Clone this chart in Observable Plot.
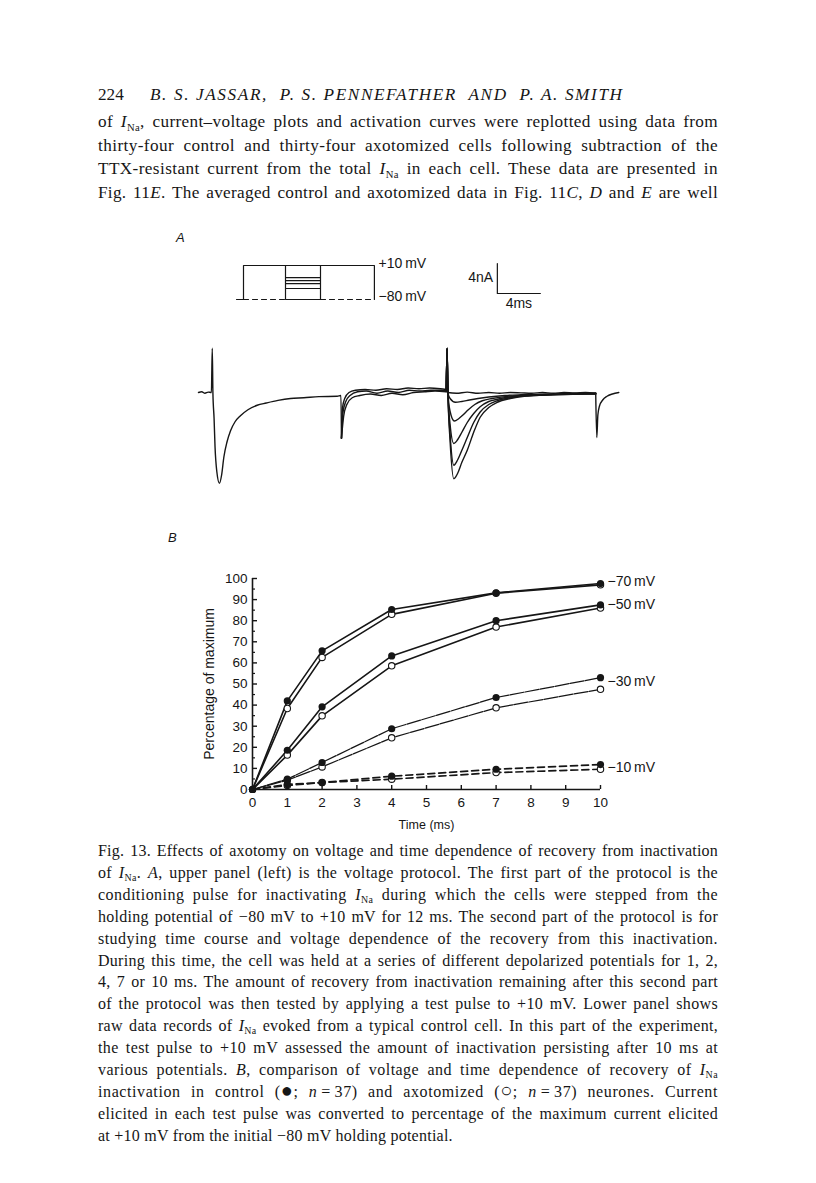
<!DOCTYPE html>
<html><head><meta charset="utf-8">
<script src="https://cdn.jsdelivr.net/npm/d3@7"></script>
<script src="https://cdn.jsdelivr.net/npm/@observablehq/plot@0.6"></script>
<style>
body{margin:0;background:#fff;}
#page{position:relative;width:816px;height:1183px;overflow:hidden;background:#fff;color:#161616;}
.ln{position:absolute;left:98px;width:660px;white-space:nowrap;font-family:"Liberation Serif",serif;}
.ln span{display:inline-block;white-space:nowrap;}
.p{font-size:17.2px;line-height:22px;}
.c{font-size:16px;line-height:20px;}
sub{font-size:0.62em;vertical-align:-0.35em;line-height:0;}
.plot{position:absolute;}
.lab{position:absolute;font-family:"Liberation Sans",sans-serif;font-style:italic;font-size:13px;}
</style></head>
<body><div id="page"></div>
<script>
// ---------- Panel B data (percentage of maximum vs time) ----------
const times = [0, 1, 2, 4, 7, 10];
const ctrl70 = [0, 42, 65.7, 85.3, 93.2, 97.6];
const axo70  = [0, 38.4, 62.6, 83, 93, 97];
const ctrl50 = [0, 18.6, 39.2, 63.3, 80, 87.5];
const axo50  = [0, 16.3, 34.9, 58.6, 77, 86];
const ctrl30 = [0, 4.9, 12.8, 28.8, 43.6, 53];
const axo30  = [0, 4.4, 10.7, 24.5, 38.7, 47.5];
const ctrl10 = [0, 2.4, 3.3, 6.3, 9.6, 11.8];
const axo10  = [0, 1.9, 3.3, 4.9, 8, 9.6];
const potentials = ["−70", "−50", "−30", "−10"];
const seriesLabels = ["−70\u2009mV", "−50\u2009mV", "−30\u2009mV", "−10\u2009mV"];
const labelY = [98.6, 87.7, 51.2, 10.4];
const xTicks = [0, 1, 2, 3, 4, 5, 6, 7, 8, 9, 10];
const yTicks = [0, 10, 20, 30, 40, 50, 60, 70, 80, 90, 100];
const yMinor = [5, 15, 25, 35, 45, 55, 65, 75, 85, 95];

// ---------- Panel A data: raw current records (ms, nA) ----------
const condTrace = [[0,0],[0.3,0.1],[0.6,-0.1],[0.9,0.05],[1.2,0],[1.28,5.9],[1.34,0],[1.45,-3.5],[1.54,-7.3],[1.7,-10.5],[1.95,-12.1],[2.15,-11.0],[2.36,-8.6],[2.65,-6.6],[2.98,-5.1],[3.4,-3.9],[3.9,-3.1],[4.6,-2.3],[5.46,-1.7],[6.3,-1.4],[7.4,-1.05],[8.56,-0.8],[9.8,-0.7],[11.2,-0.55],[12.9,-0.5],[13.25,-0.4],[13.3,-6.1]];
const recTrace1 = [[13.3,-6.1],[13.4,-2.0],[13.6,-0.8],[14.0,0],[14.6,0.3],[15.5,0.4],[16.5,0.3],[17.5,0.5],[18.5,0.4],[19.5,0.6],[20.5,0.5],[21.5,0.6],[22.5,0.5],[23.05,0.4]];
const recTrace2 = [[13.3,-6.1],[13.45,-2.6],[13.7,-1.2],[14.1,-0.4],[14.8,0.1],[15.6,0.2],[16.6,-0.1],[17.6,0.2],[18.6,0.0],[19.6,0.3],[20.6,0.2],[21.6,0.3],[22.6,0.3],[23.05,0.2]];
const recTrace3 = [[13.3,-6.1],[13.5,-3.2],[13.8,-1.6],[14.3,-0.7],[15.0,-0.4],[16.0,-0.2],[17.0,-0.4],[18.0,-0.1],[19.0,-0.3],[20.0,0.0],[21.0,0.1],[22.0,0.2],[23.05,0.1]];
const testTrace1 = [[23.05,0.1],[23.12,5.9],[23.2,0],[24,-0.1],[25,0.05],[26,-0.1],[27,0],[28,-0.1],[29,0],[30,-0.05],[31,-0.1],[32,0],[33,-0.1],[34,0],[35,-0.05],[36,0],[36.95,-0.1]];
const testTrace2 = [[23.05,0.2],[23.12,5.9],[23.2,0],[23.4,-0.8],[23.9,-1.3],[24.5,-1.2],[25.2,-1.0],[26.0,-0.8],[27.0,-0.6],[28.5,-0.4],[30,-0.3],[33,-0.2],[36,-0.1],[36.95,-0.1]];
const testTrace3 = [[23.05,0.3],[23.12,5.9],[23.2,0],[23.4,-2.5],[23.8,-3.8],[24.2,-3.5],[24.6,-3.0],[25.1,-2.3],[25.7,-1.6],[26.4,-1.1],[27.3,-0.8],[28.5,-0.55],[30,-0.4],[33,-0.25],[36,-0.15],[36.95,-0.1]];
const testTrace4 = [[23.05,0.3],[23.12,5.9],[23.2,0],[23.4,-4.2],[23.75,-6.8],[24.1,-6.3],[24.5,-5.3],[25.0,-4.0],[25.6,-2.8],[26.2,-1.9],[27.0,-1.2],[27.8,-0.9],[29,-0.6],[30.3,-0.4],[33,-0.25],[36,-0.15],[36.95,-0.15]];
const testTrace5 = [[23.05,0.3],[23.12,5.9],[23.2,0],[23.4,-5.5],[23.75,-9.7],[24.1,-9.0],[24.5,-7.7],[25.0,-6.0],[25.6,-4.0],[26.2,-2.6],[27.0,-1.6],[27.8,-1.1],[29,-0.7],[30.3,-0.45],[33,-0.3],[36,-0.2],[36.95,-0.2]];
const testTrace6 = [[23.05,0.3],[23.12,5.9],[23.2,0],[23.4,-6.4],[23.75,-11.5],[24.1,-10.8],[24.5,-9.3],[25.0,-7.7],[25.6,-5.3],[26.2,-3.3],[27.0,-2.0],[27.8,-1.3],[29,-0.8],[30.3,-0.5],[33,-0.3],[36,-0.2],[36.95,-0.2]];
const tailTrace = [[36.95,-0.1],[37.05,-6.0],[37.15,-3.0],[37.3,-1.8],[37.6,-1.0],[38.0,-0.5],[38.5,-0.2],[39.1,0]];
const scaleBar = [[27.8,17.2],[27.8,13.2],[31.8,13.2]];
const scaleLabels = ["4nA", "4ms"];

// ---------- Panel A data: voltage protocol (schematic ms, mV) ----------
const protoOuter = [[0,-80],[2,-80],[2,10],[39.4,10],[39.4,-80]];
const protoDashed1 = [[2,-80],[14,-80]];
const protoDashed2 = [[24,-80],[39.4,-80]];
const protoBoxBottom = [[14,-80],[24,-80]];
const protoSteps = [14, 24];
const recLevels = [-22, -30, -38, -51];
const protoLabels = ["+10\u2009mV", "−80\u2009mV"];
const protoLabelV = [14, -72];

const page = document.getElementById("page");
const INK = "#161616";

// ---------- Text ----------
function addLine(cls, top, html, width, justify) {
  const d = document.createElement("div");
  d.className = "ln " + cls;
  d.style.top = top + "px";
  d.innerHTML = "<span>" + html + "</span>";
  page.appendChild(d);
  if (justify) {
    const s = d.firstChild;
    const w0 = s.getBoundingClientRect().width;
    const nChars = s.textContent.length;
    const extra = width - w0;
    if (extra > 0) s.style.letterSpacing = (0.45 * extra / nChars) + "px";
    const w1 = s.getBoundingClientRect().width;
    const n = (s.textContent.match(/ /g) || []).length;
    if (n) s.style.wordSpacing = ((width - w1) / n) + "px";
  }
  return d;
}
const INa = "<i>I</i><sub>Na</sub>";
addLine("p", 84, "224", 0, false);
const h2 = addLine("p", 84, "<i>B. S. JASSAR,&nbsp; P. S. PENNEFATHER&nbsp; AND&nbsp; P. A. SMITH</i>", 0, false);
h2.style.left = "150px";
{
  const s = h2.firstChild; const w = s.getBoundingClientRect().width;
  const n = s.textContent.length - 1;
  s.style.letterSpacing = ((472 - w) / n) + "px";
}
const paraLines = [
  "of " + INa + ", current–voltage plots and activation curves were replotted using data from",
  "thirty-four control and thirty-four axotomized cells following subtraction of the",
  "TTX-resistant current from the total " + INa + " in each cell. These data are presented in",
  "Fig. 11<i>E</i>. The averaged control and axotomized data in Fig. 11<i>C</i>, <i>D</i> and <i>E</i> are well"
];
const paraCenters = [122, 146, 169, 193];
paraLines.forEach((t, i) => addLine("p", paraCenters[i] - 11, t, 620, true));

const capLines = [
  "Fig. 13. Effects of axotomy on voltage and time dependence of recovery from inactivation",
  "of " + INa + ". <i>A</i>, upper panel (left) is the voltage protocol. The first part of the protocol is the",
  "conditioning pulse for inactivating " + INa + " during which the cells were stepped from the",
  "holding potential of −80 mV to +10 mV for 12 ms. The second part of the protocol is for",
  "studying time course and voltage dependence of the recovery from this inactivation.",
  "During this time, the cell was held at a series of different depolarized potentials for 1, 2,",
  "4, 7 or 10 ms. The amount of recovery from inactivation remaining after this second part",
  "of the protocol was then tested by applying a test pulse to +10 mV. Lower panel shows",
  "raw data records of " + INa + " evoked from a typical control cell. In this part of the experiment,",
  "the test pulse to +10 mV assessed the amount of inactivation persisting after 10 ms at",
  "various potentials. <i>B</i>, comparison of voltage and time dependence of recovery of " + INa,
  "inactivation in control (<span style='font-size:1.25em;line-height:0'>●</span>; <i>n</i>&thinsp;=&thinsp;37) and axotomized (<span style='font-size:1.25em;line-height:0'>○</span>; <i>n</i>&thinsp;=&thinsp;37) neurones. Current",
  "elicited in each test pulse was converted to percentage of the maximum current elicited",
  "at +10 mV from the initial −80 mV holding potential."
];
capLines.forEach((t, i) => {
  const d = addLine("c", 852 + i * 21.9 - 11, t, 620, i < capLines.length - 1);
  if (i === capLines.length - 1) d.firstChild.style.letterSpacing = "0.25px";
});

for (const [txt, x, y] of [["A", 176, 230], ["B", 168, 530]]) {
  const d = document.createElement("div"); d.className = "lab";
  d.style.left = x + "px"; d.style.top = y + "px"; d.textContent = txt; page.appendChild(d);
}

function place(svg, left, top) {
  const w = document.createElement("div"); w.className = "plot";
  w.style.left = left + "px"; w.style.top = top + "px";
  w.appendChild(svg); page.appendChild(w);
}
const baseStyle = {fontFamily: "Liberation Sans, Arial, sans-serif", fontSize: "13px", color: INK, background: "transparent", overflow: "visible"};

// ---------- Panel A: traces ----------
const traceRows = [];
[["cond", condTrace], ["r1", recTrace1], ["r2", recTrace2], ["r3", recTrace3],
 ["t1", testTrace1], ["t2", testTrace2], ["t3", testTrace3], ["t4", testTrace4], ["t5", testTrace5], ["t6", testTrace6],
 ["tail", tailTrace]].forEach(([k, arr]) => arr.forEach(([t, v]) => traceRows.push({t, v, k})));

const traces = Plot.plot({
  width: 460, height: 250, marginLeft: 8, marginRight: 22, marginTop: 7, marginBottom: 10.5,
  x: {domain: [0, 40], axis: null}, y: {domain: [-13, 18], axis: null},
  style: baseStyle,
  marks: [
    Plot.line(traceRows, {x: "t", y: "v", z: "k", stroke: INK, strokeWidth: 1.4, curve: "monotone-x"}),
    Plot.line(scaleBar, {x: d => d[0], y: d => d[1], stroke: INK, strokeWidth: 1.2}),
    Plot.text([scaleLabels[0]], {x: 27.4, y: 15.3, text: d => d, textAnchor: "end", fontSize: 14}),
    Plot.text([scaleLabels[1]], {x: 29.8, y: 11.8, text: d => d, textAnchor: "middle", fontSize: 14})
  ]
});
place(traces, 190, 250);

// ---------- Panel A: protocol ----------
const proto = Plot.plot({
  width: 200, height: 55, marginLeft: 6, marginRight: 54, marginTop: 10, marginBottom: 11,
  x: {domain: [0, 40], axis: null}, y: {domain: [-80, 10], axis: null},
  style: baseStyle,
  marks: [
    Plot.line(protoOuter, {x: d => d[0], y: d => d[1], stroke: INK, strokeWidth: 1.2}),
    Plot.line(protoDashed1, {x: d => d[0], y: d => d[1], stroke: INK, strokeWidth: 1.1, strokeDasharray: "5,4"}),
    Plot.line(protoDashed2, {x: d => d[0], y: d => d[1], stroke: INK, strokeWidth: 1.1, strokeDasharray: "5,4"}),
    Plot.line(protoBoxBottom, {x: d => d[0], y: d => d[1], stroke: INK, strokeWidth: 1.2}),
    Plot.ruleX(protoSteps, {y1: -80, y2: 10, stroke: INK, strokeWidth: 1.2}),
    Plot.ruleY(recLevels, {x1: 14, x2: 24, stroke: INK, strokeWidth: 1.1}),
    Plot.text(protoLabels, {x: 40.6, y: (d, i) => protoLabelV[i], text: d => d, textAnchor: "start", fontSize: 14})
  ]
});
place(proto, 230, 255);

// ---------- Panel B ----------
const seriesDefs = [
  ["−70", "control", ctrl70], ["−70", "axotomized", axo70],
  ["−50", "control", ctrl50], ["−50", "axotomized", axo50],
  ["−30", "control", ctrl30], ["−30", "axotomized", axo30],
  ["−10", "control", ctrl10], ["−10", "axotomized", axo10]
];
const rows = [];
seriesDefs.forEach(([p, cond, vals]) => times.forEach((t, i) => rows.push({t, v: vals[i], p, cond, key: p + cond})));
const styles = {
  "−70": {strokeWidth: 1.6, strokeDasharray: null},
  "−50": {strokeWidth: 1.6, strokeDasharray: null},
  "−30": {strokeWidth: 1.25, strokeDasharray: "14,1.3"},
  "−10": {strokeWidth: 1.7, strokeDasharray: "7,4"}
};
const lineMarks = potentials.map(p => Plot.line(rows.filter(d => d.p === p), {
  x: "t", y: "v", z: "key", stroke: INK, strokeWidth: styles[p].strokeWidth, strokeDasharray: styles[p].strokeDasharray
}));

const chart = Plot.plot({
  width: 560, height: 290, marginLeft: 112, marginRight: 100, marginTop: 18, marginBottom: 61,
  x: {domain: [0, 10], label: null}, y: {domain: [0, 100], label: null},
  style: baseStyle,
  marks: [
    ...lineMarks,
    Plot.dot(rows.filter(d => d.cond === "axotomized" && d.t > 0), {x: "t", y: "v", r: 3.2, fill: "white", stroke: INK, strokeWidth: 1.1}),
    Plot.dot(rows.filter(d => d.cond === "control"), {x: "t", y: "v", r: 3.6, fill: INK}),
    Plot.ruleX([0], {y1: 0, y2: 100, stroke: INK, strokeWidth: 1.6}),
    Plot.ruleY([0], {x1: 0, x2: 10, stroke: INK, strokeWidth: 1.6}),
    Plot.axisX({ticks: xTicks, tickSize: -4, text: null, label: null, strokeWidth: 1.4}),
    Plot.axisX({ticks: xTicks, tickSize: 0, tickPadding: 8, label: null, fontSize: 13.5}),
    Plot.axisY({ticks: yTicks, tickSize: -5, text: null, label: null, strokeWidth: 1.4}),
    Plot.axisY({ticks: yMinor, tickSize: -3, text: null, label: null, strokeWidth: 1.2}),
    Plot.axisY({ticks: yTicks, tickSize: 0, tickPadding: 5, label: null, fontSize: 13.5}),
    Plot.text(["Percentage of maximum"], {frameAnchor: "left", dx: -43, rotate: -90, textAnchor: "middle", text: d => d, fontSize: 14}),
    Plot.text(["Time (ms)"], {frameAnchor: "bottom", dy: 39, textAnchor: "middle", text: d => d, fontSize: 12.5}),
    Plot.text(seriesLabels, {x: 10, y: (d, i) => labelY[i], dx: 7, text: d => d, textAnchor: "start", fontSize: 14})
  ]
});
place(chart, 140, 560);
</script>
</body></html>
